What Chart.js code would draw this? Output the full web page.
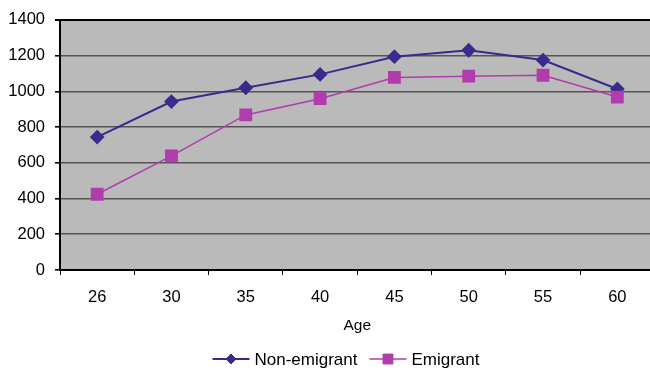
<!DOCTYPE html>
<html>
<head>
<meta charset="utf-8">
<script src="https://cdn.jsdelivr.net/npm/chart.js@4/dist/chart.umd.min.js"></script>
<style>
  html, body { margin: 0; padding: 0; background: #fff; overflow: hidden; }
  #wrap { width: 664px; height: 370px; }
</style>
</head>
<body>
<div id="wrap"><canvas id="c" width="664" height="370"></canvas></div>
<script>
// Income by age for two groups
const ages = ['26', '30', '35', '40', '45', '50', '55', '60'];
const nonEmigrant = [744, 943, 1020, 1095, 1194, 1230, 1175, 1013];
const emigrant = [424, 639, 868, 959, 1078, 1085, 1090, 968];
const yTicks = [0, 200, 400, 600, 800, 1000, 1200, 1400];

const FONT = '"Liberation Sans", Arial, Helvetica, sans-serif';
const NAVY = '#3b2a8e';
const MAGENTA = '#b03cae';

// grey plot background
const plotBackground = {
  id: 'plotBackground',
  beforeDraw(chart) {
    const { ctx, chartArea: a } = chart;
    ctx.save();
    ctx.fillStyle = '#bababa';
    ctx.fillRect(a.left, a.top, a.right - a.left, a.bottom - a.top);
    ctx.restore();
  }
};

// legend row: line with marker, then the label
const lineLegend = {
  id: 'lineLegend',
  afterDraw(chart) {
    const { ctx } = chart;
    const datasets = chart.data.datasets;
    const seg = 37, gap = 5, itemGap = 12, y = 359;
    ctx.save();
    ctx.font = '17px ' + FONT;
    ctx.textBaseline = 'middle';
    const widths = datasets.map(d => seg + gap + ctx.measureText(d.label).width);
    const total = widths.reduce((s, w) => s + w, 0) + itemGap * (datasets.length - 1);
    let x = 346 - total / 2;
    datasets.forEach((d, i) => {
      ctx.strokeStyle = d.borderColor;
      ctx.lineWidth = d.borderWidth;
      ctx.beginPath();
      ctx.moveTo(x, y);
      ctx.lineTo(x + seg, y);
      ctx.stroke();
      ctx.fillStyle = d.pointBackgroundColor;
      ctx.strokeStyle = d.pointBorderColor;
      ctx.lineWidth = 1;
      Chart.helpers.drawPoint(ctx, {
        pointStyle: d.pointStyle,
        radius: d.pointStyle === 'rect' ? 7 : 5,
        rotation: 0,
        borderWidth: 1
      }, x + seg / 2, y);
      ctx.fillStyle = '#000';
      ctx.fillText(d.label, x + seg + gap, y + 1);
      x += widths[i] + itemGap;
    });
    ctx.restore();
  }
};

new Chart(document.getElementById('c'), {
  type: 'line',
  data: {
    labels: ages,
    datasets: [
      {
        label: 'Non-emigrant',
        data: nonEmigrant,
        borderColor: NAVY,
        backgroundColor: NAVY,
        borderWidth: 2,
        pointStyle: 'rectRot',
        pointRadius: 6,
        pointBackgroundColor: NAVY,
        pointBorderColor: NAVY,
        tension: 0,
        order: 1
      },
      {
        label: 'Emigrant',
        data: emigrant,
        borderColor: MAGENTA,
        backgroundColor: MAGENTA,
        borderWidth: 1.5,
        pointStyle: 'rect',
        pointRadius: 8,
        pointBackgroundColor: MAGENTA,
        pointBorderColor: MAGENTA,
        tension: 0,
        order: 0
      }
    ]
  },
  options: {
    responsive: false,
    animation: false,
    devicePixelRatio: 1,
    layout: { padding: { top: 16, right: 2, bottom: 35, left: 0 } },
    plugins: {
      legend: { display: false },
      tooltip: { enabled: false }
    },
    scales: {
      x: {
        type: 'category',
        offset: true,
        afterFit(scale) { scale.height = 65; },
        grid: {
          offset: true,
          drawOnChartArea: false,
          drawTicks: true,
          tickLength: 5,
          tickColor: '#000',
          tickWidth: 1
        },
        border: { display: true, color: '#000', width: 2 },
        ticks: {
          color: '#000',
          font: { family: FONT, size: 16.5 },
          padding: 13,
          maxRotation: 0
        },
        title: {
          display: true,
          text: 'Age',
          color: '#000',
          font: { family: FONT, size: 15.5 },
          padding: { top: 0, bottom: 0 }
        }
      },
      y: {
        min: 0,
        max: 1400,
        afterFit(scale) { scale.width = 60; },
        afterBuildTicks(scale) { scale.ticks = yTicks.map(v => ({ value: v })); },
        grid: {
          color: ctx => (ctx.tick && ctx.tick.value === 1400) ? '#000' : '#555',
          lineWidth: ctx => (ctx.tick && ctx.tick.value === 1400) ? 2 : 1.6,
          tickColor: '#000',
          tickLength: 5,
          drawTicks: true
        },
        border: { display: true, color: '#000', width: 2 },
        ticks: {
          color: '#000',
          font: { family: FONT, size: 16.5 },
          padding: 10,
          callback: v => String(v)
        }
      }
    }
  },
  plugins: [plotBackground, lineLegend]
});
</script>
</body>
</html>
